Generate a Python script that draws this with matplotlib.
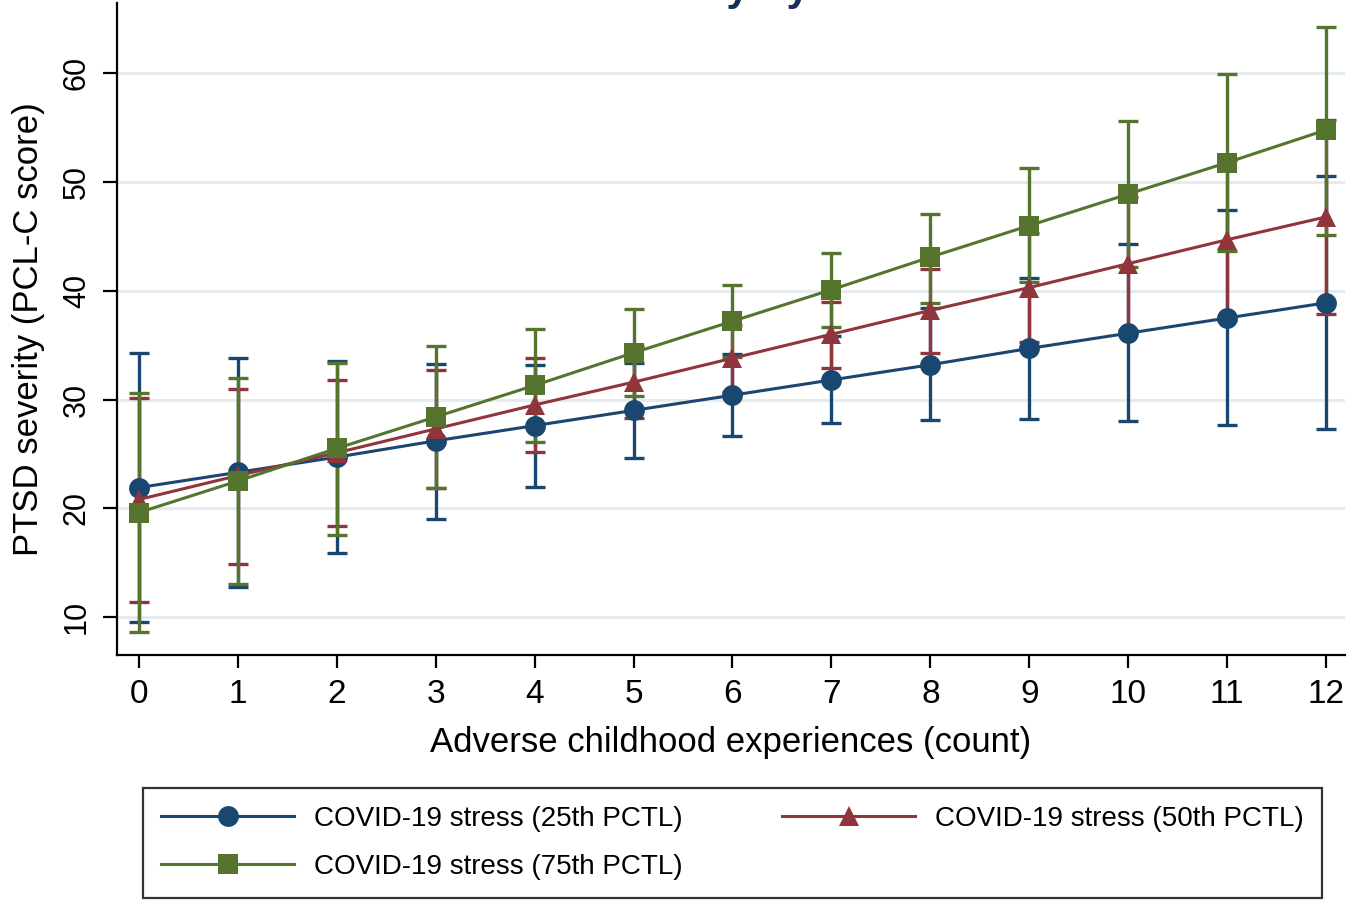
import matplotlib
matplotlib.use("Agg")
import matplotlib.pyplot as plt

plt.rcParams['font.family'] = ['Liberation Sans', 'DejaVu Sans']

# ACE count on x axis
aces = [0, 1, 2, 3, 4, 5, 6, 7, 8, 9, 10, 11, 12]

# predicted PCL-C score and 95% CI for each COVID-19 stress level
p25_mean = [21.9, 23.3, 24.7, 26.2, 27.6, 29.0, 30.4, 31.8, 33.2, 34.7, 36.1, 37.5, 38.9]
p25_low = [9.5, 12.8, 15.9, 19.0, 22.0, 24.6, 26.6, 27.8, 28.1, 28.2, 28.0, 27.7, 27.3]
p25_high = [34.3, 33.8, 33.5, 33.3, 33.2, 33.4, 34.2, 35.8, 38.4, 41.2, 44.3, 47.4, 50.6]

p50_mean = [20.8, 23.0, 25.1, 27.3, 29.5, 31.6, 33.8, 36.0, 38.2, 40.3, 42.5, 44.7, 46.8]
p50_low = [11.4, 14.9, 18.4, 21.9, 25.2, 28.3, 30.7, 32.9, 34.3, 35.3, 36.4, 37.3, 37.9]
p50_high = [30.1, 31.0, 31.8, 32.7, 33.8, 34.9, 36.9, 39.0, 42.0, 45.3, 48.6, 52.0, 55.7]

p75_mean = [19.6, 22.5, 25.5, 28.4, 31.3, 34.3, 37.2, 40.1, 43.1, 46.0, 48.9, 51.8, 54.8]
p75_low = [8.6, 13.0, 17.5, 21.9, 26.1, 30.3, 33.9, 36.7, 38.9, 40.8, 42.2, 43.7, 45.1]
p75_high = [30.6, 32.0, 33.4, 34.9, 36.5, 38.3, 40.5, 43.5, 47.1, 51.3, 55.6, 59.9, 64.3]

series = [
    ("COVID-19 stress (25th PCTL)", p25_mean, p25_low, p25_high, "#1a476f", "o", 15),
    ("COVID-19 stress (50th PCTL)", p50_mean, p50_low, p50_high, "#90353b", "^", 15),
    ("COVID-19 stress (75th PCTL)", p75_mean, p75_low, p75_high, "#55752f", "s", 14),
]

fig = plt.figure(figsize=(13.63, 9.01), dpi=100)
ax = fig.add_axes([0.0858, 0.273, 0.901, 0.724])

for y in [10, 20, 30, 40, 50, 60]:
    ax.axhline(y, color="#e4ecf0", lw=2.2, zorder=0)

# CI caps first, then connected lines with markers on top
for label, m, lo, hi, c, mk, ms in series:
    err = [[a - b for a, b in zip(m, lo)], [b - a for a, b in zip(m, hi)]]
    ax.errorbar(aces, m, yerr=err, fmt="none", ecolor=c, elinewidth=2.4,
                capsize=7.5, capthick=2.4, zorder=2)

handles = {}
for label, m, lo, hi, c, mk, ms in series:
    h, = ax.plot(aces, m, color=c, lw=2.2, marker=mk, markersize=ms,
                 markeredgewidth=0, zorder=3, label=label)
    handles[label] = h

ax.set_xlim(-0.22, 12.19)
ax.set_ylim(6.5, 66.5)
ax.set_xticks(aces)
ax.set_yticks([10, 20, 30, 40, 50, 60])
ax.tick_params(axis="x", labelsize=24, length=9, width=1.6, pad=8)
ax.tick_params(axis="y", labelsize=22, length=10, width=1.6, pad=8, labelrotation=90)
for t in ax.get_yticklabels():
    t.set_va("center")
for s in ["top", "right"]:
    ax.spines[s].set_visible(False)
for s in ["left", "bottom"]:
    ax.spines[s].set_linewidth(1.6)

ax.set_xlabel("Adverse childhood experiences (count)", fontsize=25, labelpad=12)
ax.set_ylabel("PTSD severity (PCL-C score)", fontsize=25, labelpad=12)

# title sits mostly above the canvas, as in the source image
fig.text(0.517, 1.0, "ACEs and PTSD severity by COVID-19 stress", fontsize=30,
         fontweight="bold", color="#1a2e5a", ha="center", va="baseline")

order = ["COVID-19 stress (25th PCTL)", "COVID-19 stress (75th PCTL)",
         "COVID-19 stress (50th PCTL)"]
leg = fig.legend([handles[k] for k in order], order, ncol=2, mode="expand",
                 loc="lower left", bbox_to_anchor=(0.1049, 0.0033, 0.865, 0.12),
                 borderaxespad=0, fontsize=20, frameon=True, fancybox=False,
                 edgecolor="black", handlelength=4.8, handletextpad=0.72,
                 labelspacing=0.8, borderpad=0.65, columnspacing=2.0)
leg.get_frame().set_linewidth(1.6)

fig.savefig("out.png", dpi=100)
